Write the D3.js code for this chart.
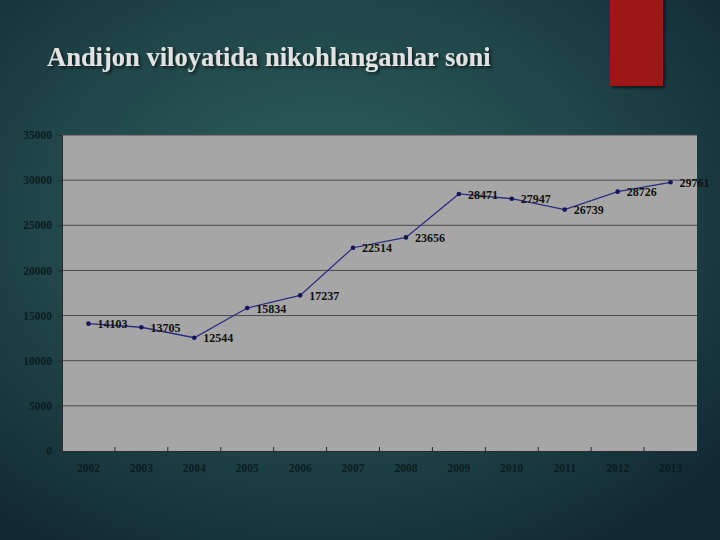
<!DOCTYPE html>
<html><head><meta charset="utf-8">
<script src="https://cdn.jsdelivr.net/npm/d3@7/dist/d3.min.js"></script>
<style>html,body{margin:0;padding:0;background:#163540;}svg{display:block;}</style>
</head><body>
<script>
const years = ["2002","2003","2004","2005","2006","2007","2008","2009","2010","2011","2012","2013"];
const values = [14103,13705,12544,15834,17237,22514,23656,28471,27947,26739,28726,29761];
const yTicks = [0,5000,10000,15000,20000,25000,30000,35000];
const title = "Andijon viloyatida nikohlanganlar soni";

const W = 720, H = 540;
const svg = d3.select("body").append("svg").attr("width", W).attr("height", H);
const defs = svg.append("defs");
const rg = defs.append("radialGradient").attr("id","bg").attr("cx","45%").attr("cy","40%").attr("r","75%");
rg.append("stop").attr("offset","0%").attr("stop-color","#2f605d");
rg.append("stop").attr("offset","55%").attr("stop-color","#1f4548");
rg.append("stop").attr("offset","100%").attr("stop-color","#102631");
const sh = defs.append("filter").attr("id","sh").attr("x","-20%").attr("y","-20%").attr("width","150%").attr("height","150%");
sh.append("feDropShadow").attr("dx",2).attr("dy",2).attr("stdDeviation",1.5).attr("flood-color","#000").attr("flood-opacity",0.6);

svg.append("rect").attr("width",W).attr("height",H).attr("fill","url(#bg)");
svg.append("rect").attr("x",610).attr("y",-5).attr("width",53).attr("height",91).attr("fill","#9e1212").attr("filter","url(#sh)");

svg.append("text").attr("x",47).attr("y",66).text(title)
  .attr("font-family","Liberation Serif, Times New Roman, serif").attr("font-weight","bold")
  .attr("font-size",26.5).attr("fill","#e2e2e2").attr("filter","url(#sh)");

const m = {l:62, t:135, r:697, b:451};
const x = d3.scaleBand().domain(years).range([m.l, m.r]).padding(0);
const y = d3.scaleLinear().domain([0,35000]).range([m.b, m.t]);

svg.append("rect").attr("x",m.l).attr("y",m.t).attr("width",m.r-m.l).attr("height",m.b-m.t).attr("fill","#a6a6a6");

const font = "Liberation Serif, Times New Roman, serif";
// gridlines
svg.append("g").selectAll("line").data(yTicks.filter(d=>d>0)).join("line")
  .attr("x1",m.l).attr("x2",m.r).attr("y1",d=>y(d)).attr("y2",d=>y(d))
  .attr("stroke","#4a4a4a").attr("stroke-width",1);

// y axis
const ya = svg.append("g").attr("transform",`translate(${m.l},0)`)
  .call(d3.axisLeft(y).tickValues(yTicks).tickSize(4).tickPadding(6).tickFormat(d3.format("d")));
ya.select(".domain").attr("stroke","#2a2a2a");
ya.selectAll(".tick line").attr("stroke","#2a2a2a");
ya.selectAll("text").attr("font-family",font).attr("font-weight","bold").attr("font-size",11.5).attr("fill","#0b1c1f");

// x axis
const xa = svg.append("g").attr("transform",`translate(0,${m.b})`)
  .call(d3.axisBottom(x).tickSize(0).tickPadding(13));
xa.select(".domain").attr("stroke","#2a2a2a");
xa.selectAll("text").attr("font-family",font).attr("font-weight","bold").attr("font-size",11.5).attr("fill","#0b1c1f");
svg.append("g").selectAll("line").data(years.slice(1)).join("line")
  .attr("x1",d=>x(d)).attr("x2",d=>x(d)).attr("y1",m.b).attr("y2",m.b-4)
  .attr("stroke","#2a2a2a");

// line
const line = d3.line().x((d,i)=>x(years[i])+x.bandwidth()/2).y(d=>y(d));
svg.append("path").datum(values).attr("d",line).attr("fill","none")
  .attr("stroke","#2c2c82").attr("stroke-width",1.3);
svg.append("g").selectAll("circle").data(values).join("circle")
  .attr("cx",(d,i)=>x(years[i])+x.bandwidth()/2).attr("cy",d=>y(d)).attr("r",2.3)
  .attr("fill","#14145c");
svg.append("g").selectAll("text").data(values).join("text")
  .attr("x",(d,i)=>x(years[i])+x.bandwidth()/2+9)
  .attr("y",d=>y(d)+0.5)
  .attr("dy","0.35em")
  .text(d=>d)
  .attr("font-family",font).attr("font-weight","bold").attr("font-size",12).attr("fill","#111");
</script>
</body></html>
